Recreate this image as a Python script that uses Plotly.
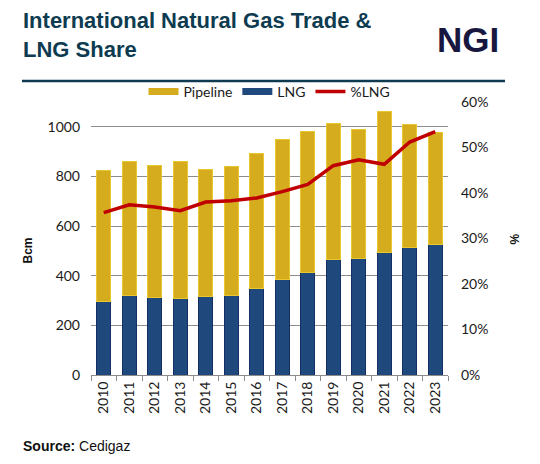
import plotly.graph_objects as go

years = ["2010", "2011", "2012", "2013", "2014", "2015", "2016",
         "2017", "2018", "2019", "2020", "2021", "2022", "2023"]
lng = [296, 320, 313, 309, 316, 321, 347, 384, 413, 466, 468, 494, 515, 524]
pipeline = [528, 540, 531, 551, 511, 518, 544, 564, 569, 547, 522, 567, 495, 453]
pct_lng = [0.357, 0.374, 0.369, 0.361, 0.380, 0.383, 0.389, 0.403, 0.419,
           0.460, 0.473, 0.463, 0.512, 0.535]

GOLD = "#D4AC1E"
GOLD_EDGE = "#E9C72E"
BLUE = "#1F497D"
BLUE_EDGE = "#132F66"
RED = "#C00000"
FONT = "Lato"

# page offset from default body margin
OFF = 8
PAGE_W, PAGE_H = 540, 464
W, H = PAGE_W - OFF, PAGE_H - OFF
# plot area geometry in page px
L, R, T, B = 91, 448, 102, 375
pw, ph = R - L, B - T


def px(x):
    return (x - L) / pw


def py(y):
    return (B - y) / ph


fig = go.Figure()
fig.add_trace(go.Bar(x=years, y=lng, name="LNG", marker=dict(color=BLUE, line=dict(color=BLUE_EDGE, width=1)),
                     showlegend=False))
fig.add_trace(go.Bar(x=years, y=pipeline, name="Pipeline", marker=dict(color=GOLD, line=dict(color=GOLD_EDGE, width=1)),
                     showlegend=False))
fig.add_trace(go.Scatter(x=years, y=pct_lng, name="%LNG", mode="lines", yaxis="y2",
                         line=dict(color=RED, width=3.5), showlegend=False))

# legend-only entries with wide swatches
fig.add_trace(go.Scatter(x=[None], y=[None], mode="lines", name="Pipeline", line=dict(color=GOLD, width=7)))
fig.add_trace(go.Scatter(x=[None], y=[None], mode="lines", name="LNG", line=dict(color=BLUE, width=7)))
fig.add_trace(go.Scatter(x=[None], y=[None], mode="lines", name="%LNG", yaxis="y2", line=dict(color=RED, width=3.5)))

fig.update_layout(
    width=W, height=H,
    margin=dict(l=L - OFF, r=PAGE_W - R, t=T - OFF, b=PAGE_H - B, autoexpand=False),
    paper_bgcolor="white", plot_bgcolor="white",
    barmode="stack", bargap=0.47,
    font=dict(family=FONT, size=14, color="#1a1a1a"),
    showlegend=True,
    legend=dict(orientation="h", x=0.5, xanchor="center", y=py(92), yanchor="middle",
                font=dict(family=FONT, size=14, color="#1a1a1a"), itemwidth=30,
                traceorder="normal", tracegroupgap=0, bgcolor="rgba(0,0,0,0)"),
    xaxis=dict(type="category", tickangle=-90, showline=True, linecolor="#8c8c8c", linewidth=1,
               ticks="outside", tickson="boundaries", ticklen=5, tickcolor="#8c8c8c",
               showgrid=False, tickfont=dict(family=FONT, size=14, color="#1a1a1a")),
    yaxis=dict(range=[0, 1100], tickvals=[0, 200, 400, 600, 800, 1000], showgrid=True,
               gridcolor="#8c8c8c", gridwidth=1, zeroline=False, showline=False, ticks="",
               ticklabelstandoff=10, tickfont=dict(family=FONT, size=14, color="#1a1a1a")),
    yaxis2=dict(range=[0, 0.6], overlaying="y", side="right", tickformat=".0%", dtick=0.1,
                showgrid=False, zeroline=False, showline=False, ticks="", ticklabelstandoff=12,
                tickfont=dict(family=FONT, size=14, color="#1a1a1a")),
)

ann = [
    dict(text="<b>International Natural Gas Trade &amp;<br>LNG Share</b>", x=px(21), y=py(6),
         xanchor="left", yanchor="top", align="left",
         font=dict(family="Liberation Sans", size=22, color="#0E3B50")),
    dict(text="<b>NGI</b>", x=px(501), y=py(40), xanchor="right", yanchor="middle",
         font=dict(family="Liberation Sans", size=35, color="#17173F")),
    dict(text="<b>Bcm</b>", x=px(27.5), y=py(251), xanchor="center", yanchor="middle", textangle=-90,
         font=dict(family="Liberation Sans", size=12, color="#111")),
    dict(text="<b>%</b>", x=px(514.5), y=py(239), xanchor="center", yanchor="middle", textangle=-90,
         font=dict(family="Liberation Sans", size=12, color="#111")),
    dict(text="<b>Source:</b> Cedigaz", x=px(21), y=py(446), xanchor="left", yanchor="middle",
         font=dict(family="Liberation Sans", size=14, color="#111")),
]
for a in ann:
    a.update(xref="paper", yref="paper", showarrow=False)
fig.update_layout(annotations=ann)

fig.add_shape(type="line", xref="paper", yref="paper", x0=px(22), x1=px(505), y0=py(81), y1=py(81),
              line=dict(color="#0E3B50", width=2.5))

fig.write_html("out.html")
